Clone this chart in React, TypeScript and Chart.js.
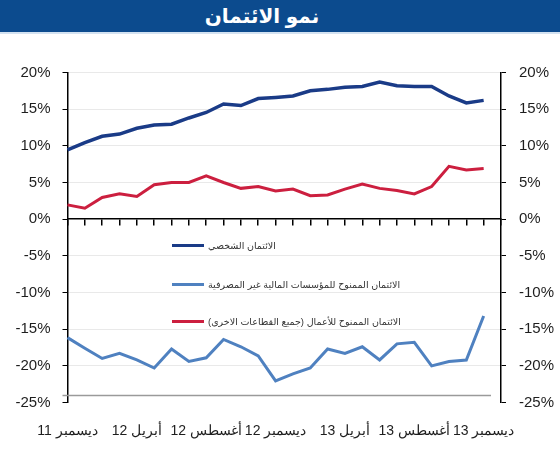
import React, { useEffect, useRef } from "react";
import { Chart, registerables } from "chart.js";

Chart.register(...registerables);

const TITLE = "نمو الائتمان";

const MONTHS = [
  "ديسمبر 11", "يناير 12", "فبراير 12", "مارس 12", "أبريل 12", "مايو 12", "يونيو 12",
  "يوليو 12", "أغسطس 12", "سبتمبر 12", "أكتوبر 12", "نوفمبر 12", "ديسمبر 12",
  "يناير 13", "فبراير 13", "مارس 13", "أبريل 13", "مايو 13", "يونيو 13", "يوليو 13",
  "أغسطس 13", "سبتمبر 13", "أكتوبر 13", "نوفمبر 13", "ديسمبر 13", "يناير 14",
];

const SERIES_NAMES = [
  "الائتمان الشخصي",
  "الائتمان الممنوح للمؤسسات المالية غير المصرفية",
  "الائتمان الممنوح للأعمال (جميع القطاعات الاخرى)",
];

const PERSONAL = [
  9.45, 10.45, 11.3, 11.6, 12.4, 12.85, 12.95, 13.8, 14.55, 15.7, 15.5, 16.45, 16.6,
  16.8, 17.5, 17.7, 18.0, 18.1, 18.7, 18.2, 18.1, 18.1, 16.8, 15.85, 16.2,
];

const NON_BANK = [
  -16.15, -17.6, -19.0, -18.3, -19.2, -20.3, -17.7, -19.4, -18.9, -16.4, -17.4, -18.65, -22.05,
  -21.1, -20.3, -17.7, -18.3, -17.4, -19.2, -17.0, -16.8, -20.0, -19.4, -19.2, -13.2,
];

const BUSINESS = [
  1.95, 1.5, 2.95, 3.45, 3.1, 4.7, 5.0, 5.0, 5.9, 5.0, 4.2, 4.45, 3.85,
  4.1, 3.2, 3.3, 4.1, 4.8, 4.2, 3.9, 3.45, 4.45, 7.2, 6.7, 6.9,
];

const Y_MIN = -25;
const Y_MAX = 20;
const Y_STEP = 5;
const LABEL_EVERY = 4;

const COLORS = ["#1a3b87", "#4f81c0", "#cc1f3f"];
const TICK_FONT = { family: "'Liberation Sans', Arial, sans-serif", size: 15 };
const X_FONT = { family: "'Liberation Sans', Arial, sans-serif", size: 14 };

const frameLine = {
  id: "frameLine",
  afterDatasetsDraw(chart: any) {
    const { ctx, chartArea } = chart;
    ctx.save();
    ctx.strokeStyle = "#9a9a9a";
    ctx.lineWidth = 1.5;
    ctx.beginPath();
    ctx.moveTo(chartArea.left - 5, chartArea.bottom - 7);
    ctx.lineTo(chartArea.right - 10, chartArea.bottom - 7);
    ctx.stroke();
    ctx.restore();
  },
};

export default function App() {
  const ref = useRef<HTMLCanvasElement | null>(null);

  useEffect(() => {
    if (!ref.current) return;
    const values = [PERSONAL, NON_BANK, BUSINESS];
    const chart = new Chart(ref.current, {
      type: "line",
      data: {
        labels: MONTHS,
        datasets: values.map((v, i) => ({
          label: SERIES_NAMES[i],
          data: v,
          borderColor: COLORS[i],
          backgroundColor: COLORS[i],
          borderWidth: i === 0 ? 3.5 : 3,
          pointRadius: 0,
          tension: 0,
          xAxisID: "x",
          yAxisID: "y",
        })),
      },
      plugins: [frameLine],
      options: {
        animation: false,
        responsive: false,
        maintainAspectRatio: false,
        layout: { padding: { top: 72.5, left: 0, right: 0, bottom: 0 } },
        plugins: { legend: { display: false }, tooltip: { enabled: false }, title: { display: false } },
        scales: {
          x: {
            type: "category",
            position: "bottom",
            offset: false,
            grid: { display: false },
            border: { display: false },
            ticks: {
              autoSkip: false,
              maxRotation: 0,
              minRotation: 0,
              padding: 12,
              color: "#1e1e1e",
              font: X_FONT,
              callback: (_v: any, i: number) =>
                i % LABEL_EVERY === 0 && i < MONTHS.length - 1 ? MONTHS[i] : "",
            },
            afterFit: (s: any) => { s.height = 47.5; },
          },
          x0: {
            type: "category",
            position: { y: 0 } as any,
            offset: false,
            grid: { display: true, drawOnChartArea: false, drawTicks: true, tickLength: 6, color: "#000", tickColor: "#000", lineWidth: 1.5 },
            border: { display: true, color: "#000", width: 1.5 },
            ticks: { display: false, autoSkip: false },
          },
          y: {
            type: "linear",
            position: "left",
            min: Y_MIN,
            max: Y_MAX,
            grid: {
              color: (c: any) => (c.tick && (c.tick.value === 0 || c.tick.value === Y_MIN) ? "rgba(0,0,0,0)" : "#e9e9e9"),
              tickColor: "#000",
              drawTicks: true,
              tickLength: 5,
              lineWidth: 1,
            },
            border: { display: true, color: "#000", width: 1.5 },
            ticks: {
              stepSize: Y_STEP,
              padding: 12,
              color: "#1e1e1e",
              font: TICK_FONT,
              callback: (v: any) => `${v}%`,
            },
            afterFit: (s: any) => { s.width = 67.5; },
          },
          y2: {
            type: "linear",
            position: "right",
            min: Y_MIN,
            max: Y_MAX,
            grid: { drawOnChartArea: false, tickColor: "#000", drawTicks: true, tickLength: 5 },
            border: { display: true, color: "#000", width: 1.5 },
            ticks: {
              stepSize: Y_STEP,
              padding: 13,
              color: "#1e1e1e",
              font: TICK_FONT,
              callback: (v: any) => `${v}%`,
            },
            afterFit: (s: any) => { s.width = 59; },
          },
        },
      },
    });
    return () => chart.destroy();
  }, []);

  const legendTops = [237, 276, 313];

  return (
    <div style={{ position: "absolute", top: 0, left: 0, width: 560, height: 450, background: "#fff", overflow: "hidden" }}>
      <canvas ref={ref} width={560} height={450} style={{ position: "absolute", top: 0, left: 0, width: 560, height: 450 }} />
      <div
        style={{
          position: "absolute", top: 0, left: 0, width: 560, height: 32,
          background: "#0c4b8e", color: "#fff", textAlign: "center",
          fontFamily: "'Liberation Sans', Arial, 'DejaVu Sans', sans-serif",
          fontWeight: "bold", fontSize: 20, lineHeight: "32px",
        }}
        dir="rtl"
      >
        <span style={{ position: "relative", left: -18 }}>{TITLE}</span>
      </div>
      <div style={{ position: "absolute", top: 32, left: 0, width: 560, height: 2, background: "#d3e2f1" }} />
      {SERIES_NAMES.map((name, i) => (
        <div
          key={i}
          style={{
            position: "absolute", top: legendTops[i], left: 172, height: 16,
            display: "flex", alignItems: "center", direction: "ltr", whiteSpace: "nowrap",
          }}
        >
          <span style={{ display: "inline-block", width: 32, height: 3, background: COLORS[i] }} />
          <span
            dir="rtl"
            style={{
              marginLeft: 4, fontSize: 9.5, color: "#333",
              fontFamily: "'Liberation Sans', Arial, 'DejaVu Sans', sans-serif",
            }}
          >
            {name}
          </span>
        </div>
      ))}
    </div>
  );
}
